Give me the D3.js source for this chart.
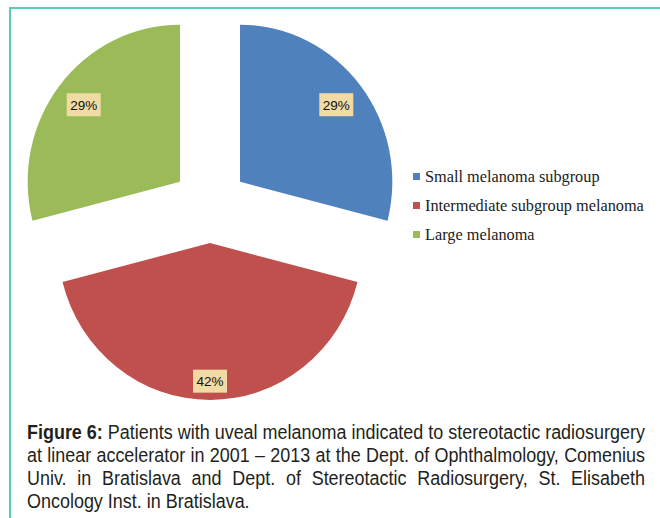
<!DOCTYPE html>
<html>
<head>
<meta charset="utf-8">
<script src="https://cdn.jsdelivr.net/npm/d3@7"></script>
<style>
  body { margin: 0; background: #fff; }
  svg { display: block; }
</style>
</head>
<body>
<div id="chart"></div>
<script>
// data
const categories = ["Small melanoma subgroup", "Intermediate subgroup melanoma", "Large melanoma"];
const values = [29, 42, 29];
const valueLabels = ["29%", "42%", "29%"];
const captionLines = [
  "Patients with uveal melanoma indicated to stereotactic radiosurgery",
  "at linear accelerator in 2001 \u2013 2013 at the Dept. of Ophthalmology, Comenius",
  "Univ. in Bratislava and Dept. of Stereotactic Radiosurgery, St. Elisabeth",
  "Oncology Inst. in Bratislava."
];
const captionLead = "Figure 6:";

// layout constants
const WIDTH = 660;
const HEIGHT = 518;
const CENTER = { x: 210, y: 205 };
const RADIUS = 157;
const X_SQUEEZE = 0.97; // pie is a touch narrower than tall
const EXPLODE = 38;
const LABEL_FRAC = [0.8, 0.88, 0.8];
const COLORS = ["#4f81bd", "#c0504d", "#9bbb59"];
const BORDER = "#5ccbb5";

const svg = d3.select("#chart")
  .append("svg")
  .attr("width", WIDTH)
  .attr("height", HEIGHT);

// frame
svg.append("path")
  .attr("d", `M10,${HEIGHT} V8 H${WIDTH}`)
  .attr("fill", "none")
  .attr("stroke", BORDER)
  .attr("stroke-width", 2);

// pie
const data = categories.map((c, i) => ({ name: c, value: values[i], label: valueLabels[i], idx: i }));
const pie = d3.pie().sort(null).value((d) => d.value);
const arcs = pie(data);
const arc = d3.arc().innerRadius(0).outerRadius(RADIUS);

const g = svg.append("g").attr("transform", `translate(${CENTER.x},${CENTER.y})`);

const slices = g.selectAll(".slice")
  .data(arcs)
  .join("g")
  .attr("class", "slice")
  .attr("transform", (d) => {
    const a = (d.startAngle + d.endAngle) / 2;
    return `translate(${EXPLODE * Math.sin(a)},${-EXPLODE * Math.cos(a)})`;
  });

slices.append("path")
  .attr("d", arc)
  .attr("transform", `scale(${X_SQUEEZE},1)`)
  .attr("fill", (d) => COLORS[d.data.idx]);

// data labels
slices.each(function (d) {
  const a = (d.startAngle + d.endAngle) / 2;
  const r = RADIUS * LABEL_FRAC[d.data.idx];
  const lx = r * Math.sin(a) * X_SQUEEZE;
  const ly = -r * Math.cos(a);
  const s = d3.select(this);
  s.append("rect")
    .attr("x", lx - 17)
    .attr("y", ly - 11.5)
    .attr("width", 34)
    .attr("height", 23)
    .attr("fill", "#f1daa4");
  s.append("text")
    .attr("x", lx)
    .attr("y", ly + 5)
    .attr("text-anchor", "middle")
    .attr("font-family", "Liberation Sans, Arial, sans-serif")
    .attr("font-size", 13.5)
    .attr("fill", "#111")
    .text(d.data.label);
});

// legend
const legend = svg.append("g").attr("transform", "translate(413,177)");
const rows = legend.selectAll(".row")
  .data(categories)
  .join("g")
  .attr("class", "row")
  .attr("transform", (d, i) => `translate(0,${i * 29})`);
rows.append("rect")
  .attr("x", 0).attr("y", -4)
  .attr("width", 7).attr("height", 7)
  .attr("fill", (d, i) => COLORS[i]);
rows.append("text")
  .attr("x", 12)
  .attr("y", 5)
  .attr("font-family", "Liberation Serif, Times New Roman, serif")
  .attr("font-size", 16.3)
  .attr("fill", "#222")
  .text((d) => d);

// caption (justified, condensed like Arial Narrow)
const CAP_X0 = 27;
const CAP_X1 = 645;
const CAP_Y0 = 439;
const CAP_DY = 23;
const capFont = "Liberation Sans, Arial, sans-serif";
const capSize = 20;

function measure(txt, bold) {
  const t = svg.append("text")
    .attr("font-family", capFont)
    .attr("font-size", capSize)
    .attr("font-weight", bold ? "bold" : "normal")
    .text(txt);
  const w = t.node().getComputedTextLength();
  t.remove();
  return w;
}

const space = measure("a b", false) - measure("ab", false);
const lineWords = captionLines.map((line, li) => {
  const words = line.split(" ").map((w) => ({ text: w, bold: false }));
  if (li === 0) words.unshift({ text: captionLead, bold: true });
  words.forEach((w) => { w.width = measure(w.text, w.bold); });
  return words;
});
// horizontal squeeze so that the first line fits naturally
const natural0 = d3.sum(lineWords[0], (w) => w.width) + space * (lineWords[0].length - 1);
const sx = (CAP_X1 - CAP_X0) / natural0;
const span = (CAP_X1 - CAP_X0) / sx;

const caption = svg.append("g")
  .attr("transform", `translate(${CAP_X0},0) scale(${sx},1)`);
lineWords.forEach((words, li) => {
  const total = d3.sum(words, (w) => w.width);
  const last = li === lineWords.length - 1;
  const gap = last ? space : (span - total) / (words.length - 1);
  let x = 0;
  const y = CAP_Y0 + li * CAP_DY;
  words.forEach((w) => {
    caption.append("text")
      .attr("x", x)
      .attr("y", y)
      .attr("font-family", capFont)
      .attr("font-size", capSize)
      .attr("font-weight", w.bold ? "bold" : "normal")
      .attr("fill", "#231f20")
      .text(w.text);
    x += w.width + gap;
  });
});
</script>
</body>
</html>
